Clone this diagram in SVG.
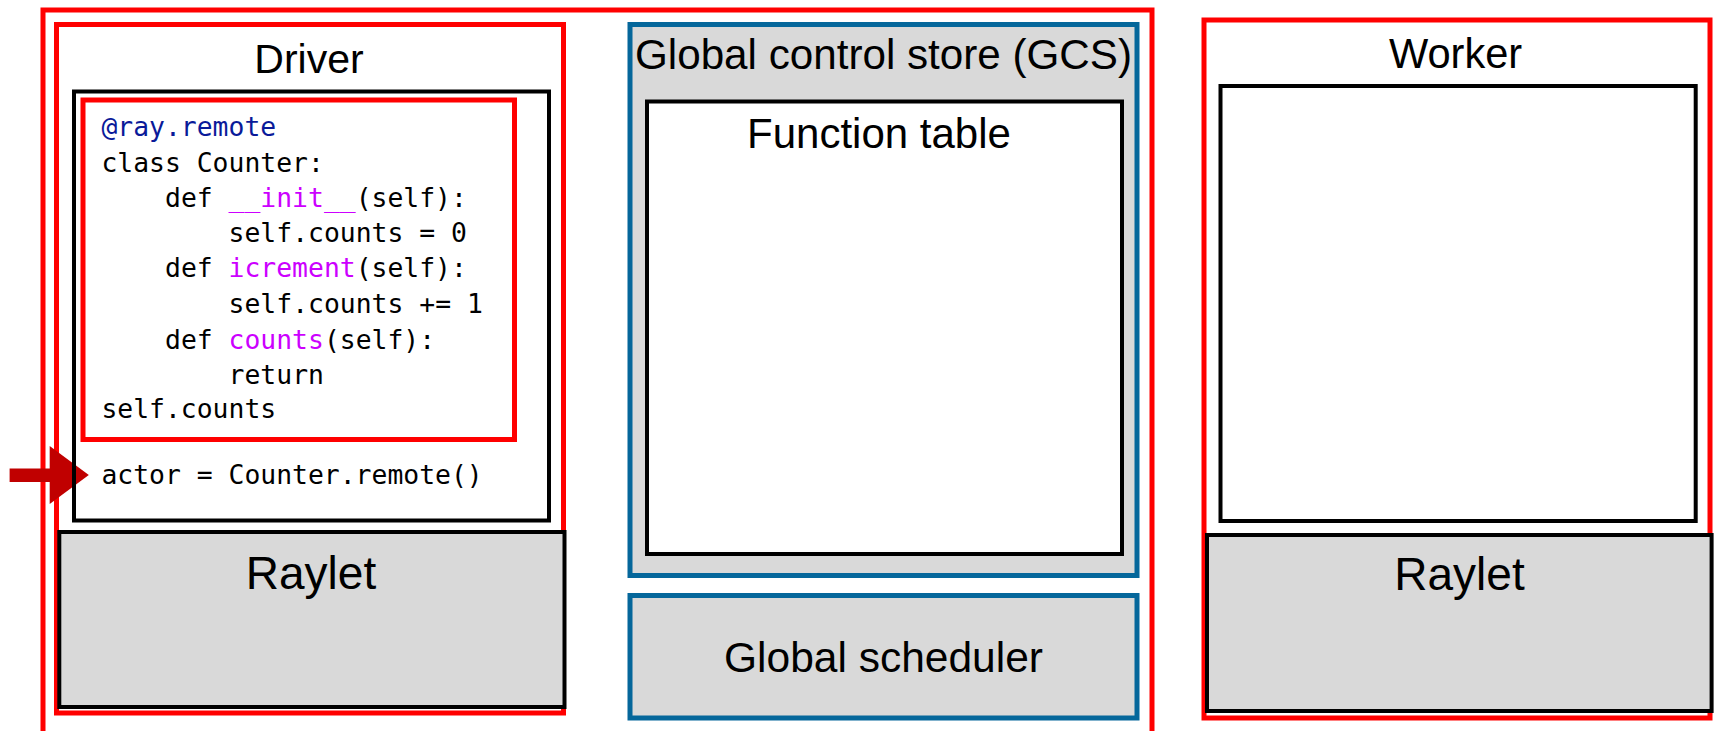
<svg xmlns="http://www.w3.org/2000/svg" width="1717" height="731" viewBox="0 0 1717 731">
<defs>
<style>
.red{fill:none;stroke:#ff0000;stroke-width:5}
.redw{fill:#ffffff;stroke:#ff0000;stroke-width:5}
.blk{fill:#ffffff;stroke:#000000;stroke-width:4}
.blkn{fill:none;stroke:#000000;stroke-width:4}
.gray{fill:#d9d9d9;stroke:#000000;stroke-width:4}
.blue{fill:#d9d9d9;stroke:#05679b;stroke-width:5}
.lbl{font-family:"Liberation Sans",Arial,Helvetica,sans-serif;fill:#000;text-anchor:middle}
.code{font-family:"DejaVu Sans Mono","Liberation Mono",monospace;font-size:26.4px;fill:#000}
.kw{fill:#0a1a99}
.fn{fill:#cc00ff}
</style>
</defs>
<rect width="1717" height="731" fill="#ffffff"/>
<g id="cluster">
<rect class="red" x="43" y="10" width="1109" height="800"/>
</g>
<g id="driver">
<rect class="redw" x="56.5" y="24.5" width="507" height="688.5"/>
<text class="lbl" x="309" y="73" font-size="41">Driver</text>
</g>
<g id="connectors">
<rect x="9.6" y="468.5" width="41" height="13.5" fill="#c00000"/>
<polygon points="49.7,446 88.8,475 49.7,504" fill="#c00000"/>
</g>
<g id="driver-code">
<rect class="blkn" x="74" y="91.5" width="475" height="429"/>
<rect class="red" x="83" y="100" width="431.5" height="339.5"/>
<text class="code" x="101.4" y="136"><tspan class="kw">@ray.remote</tspan></text>
<text class="code" x="101.4" y="171.5">class Counter:</text>
<text class="code" x="165" y="207">def <tspan class="fn">__init__</tspan>(self):</text>
<text class="code" x="228.6" y="242">self.counts = 0</text>
<text class="code" x="165" y="277">def <tspan class="fn">icrement</tspan>(self):</text>
<text class="code" x="228.6" y="312.7">self.counts += 1</text>
<text class="code" x="165" y="348.5">def <tspan class="fn">counts</tspan>(self):</text>
<text class="code" x="228.6" y="384">return</text>
<text class="code" x="101.4" y="418">self.counts</text>
<text class="code" x="101.4" y="484">actor = Counter.remote()</text>
</g>
<g id="driver-raylet">
<rect class="gray" x="59.3" y="532" width="505.2" height="175"/>
<text class="lbl" x="311" y="589" font-size="46">Raylet</text>
</g>
<g id="gcs">
<rect class="blue" x="630" y="24.5" width="507" height="551"/>
<text class="lbl" x="883.5" y="69.3" font-size="43" textLength="497" lengthAdjust="spacingAndGlyphs">Global control store (GCS)</text>
</g>
<g id="function-table">
<rect class="blk" x="647" y="101.5" width="475" height="452.5"/>
<text class="lbl" x="879" y="148.3" font-size="42">Function table</text>
</g>
<g id="global-scheduler">
<rect class="blue" x="630" y="595.5" width="507" height="122.5"/>
<text class="lbl" x="883.5" y="671.7" font-size="42.5">Global scheduler</text>
</g>
<g id="worker">
<rect class="redw" x="1204" y="20" width="506" height="698"/>
<text class="lbl" x="1455.6" y="68.3" font-size="41.6">Worker</text>
<rect class="blk" x="1220.5" y="86" width="475.2" height="435"/>
</g>
<g id="worker-raylet">
<rect class="gray" x="1207" y="535" width="504.6" height="176"/>
<text class="lbl" x="1459.5" y="590" font-size="46">Raylet</text>
</g>
</svg>
